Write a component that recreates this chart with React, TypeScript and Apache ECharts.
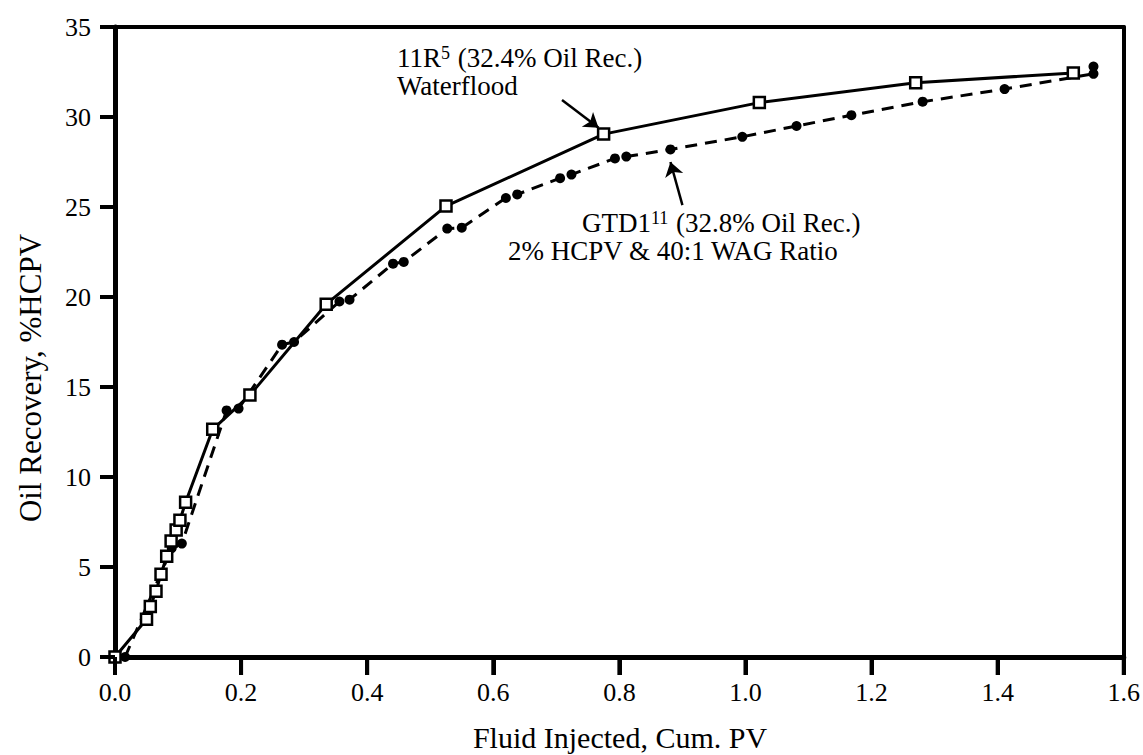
import React, { useEffect, useRef } from 'react';
import * as echarts from 'echarts';

// Waterflood 11R (open squares, solid line)
const waterX = [0, 0.05, 0.056, 0.065, 0.073, 0.082, 0.089, 0.097, 0.103, 0.112, 0.155, 0.214, 0.335, 0.525, 0.775, 1.022, 1.27, 1.52];
const waterY = [0, 2.1, 2.8, 3.65, 4.6, 5.6, 6.45, 7.05, 7.6, 8.6, 12.65, 14.55, 19.6, 25.05, 29.05, 30.8, 31.9, 32.45];

// GTD1 (filled dots, dashed line)
const gtdX = [0.016, 0.09, 0.106, 0.177, 0.196, 0.265, 0.284, 0.356, 0.372, 0.441, 0.458, 0.527, 0.55, 0.62, 0.638, 0.706, 0.724, 0.793, 0.811, 0.881, 0.995, 1.081, 1.168, 1.281, 1.411, 1.552, 1.552];
const gtdY = [0, 6.05, 6.3, 13.7, 13.8, 17.35, 17.5, 19.75, 19.85, 21.85, 21.95, 23.8, 23.85, 25.5, 25.7, 26.6, 26.8, 27.7, 27.8, 28.2, 28.9, 29.5, 30.1, 30.85, 31.55, 32.4, 32.8];

// Tick values
const xTicks = [0, 0.2, 0.4, 0.6, 0.8, 1.0, 1.2, 1.4, 1.6];
const yTicks = [0, 5, 10, 15, 20, 25, 30, 35];

// Annotation arrows (data coordinates: start -> tip)
const waterArrow = [[0.709, 30.94], [0.767, 29.4]];
const gtdArrow = [[0.9, 25.1], [0.881, 27.5]];

const xTickFormat = (v: number) => v.toFixed(1);

export default function App() {
  const ref = useRef<HTMLDivElement>(null);
  useEffect(() => {
    const chart = echarts.init(ref.current!, null, { renderer: 'svg' });
    const font = 'Liberation Serif';
    const black = '#000';
    const arrowLine = (pts: number[][]) => ({
      silent: true,
      symbol: ['none', 'arrow'],
      symbolSize: 14,
      label: { show: false },
      lineStyle: { color: black, width: 2.5, type: 'solid' },
      data: [[{ coord: pts[0] }, { coord: pts[1] }]],
    });
    const superRich = {
      n: { fontFamily: font, fontSize: 27, lineHeight: 27, fill: black },
      s: { fontFamily: font, fontSize: 18, lineHeight: 18, verticalAlign: 'top', padding: [0, 1, 0, 0], fill: black },
    };
    const frameAxis = {
      type: 'value',
      axisLine: { show: true, onZero: false, lineStyle: { color: black, width: 4 } },
      axisTick: { show: false },
      axisLabel: { show: false },
      splitLine: { show: false },
    };
    chart.setOption({
      animation: false,
      backgroundColor: '#fff',
      grid: { left: 115, right: 19, top: 27, bottom: 98 },
      xAxis: [
        {
          type: 'value', min: 0, max: 1.6, interval: 0.2, position: 'bottom',
          axisLine: { show: true, onZero: false, lineStyle: { color: black, width: 5 } },
          axisTick: { show: true, length: 18, lineStyle: { color: black, width: 4 } },
          axisLabel: { show: true, margin: 22, fontFamily: font, fontSize: 26, color: black, formatter: xTickFormat },
          splitLine: { show: false },
        },
        { ...frameAxis, min: 0, max: 1.6, position: 'top' },
      ],
      yAxis: [
        {
          type: 'value', min: 0, max: 35, interval: 5, position: 'left',
          axisLine: { show: true, onZero: false, lineStyle: { color: black, width: 5 } },
          axisTick: { show: true, length: 15, lineStyle: { color: black, width: 4 } },
          axisLabel: { show: true, margin: 24, fontFamily: font, fontSize: 26, color: black },
          splitLine: { show: false },
        },
        { ...frameAxis, min: 0, max: 35, position: 'right' },
      ],
      series: [
        {
          name: 'GTD1', type: 'line',
          data: gtdX.map((x, i) => [x, gtdY[i]]),
          symbol: 'circle', symbolSize: 10, showAllSymbol: true,
          itemStyle: { color: black },
          lineStyle: { color: black, width: 3, type: [12, 8] },
          markLine: arrowLine(gtdArrow),
          z: 2,
        },
        {
          name: 'Waterflood', type: 'line',
          data: waterX.map((x, i) => [x, waterY[i]]),
          symbol: 'rect', symbolSize: 11, showAllSymbol: true,
          itemStyle: { color: '#fff', borderColor: black, borderWidth: 2.5 },
          lineStyle: { color: black, width: 3 },
          markLine: arrowLine(waterArrow),
          z: 3,
        },
      ],
    });

    // Tick marks placed through the axes' own scales (drawn as thin filled rects)
    const toPx = (finder: any, v: number) => {
      const r: any = chart.convertToPixel(finder, v);
      return Array.isArray(r) ? r[0] : r;
    };
    const axisY = toPx({ yAxisIndex: 0 }, 0);
    const axisX = toPx({ xAxisIndex: 0 }, 0);
    const tickEls: any[] = [];
    xTicks.forEach((v, i) => {
      const px = toPx({ xAxisIndex: 0 }, v);
      tickEls.push({ type: 'rect', id: 'xt' + i, z: 100, silent: true, shape: { x: px - 2, y: axisY, width: 4, height: 18 }, style: { fill: black } });
    });
    yTicks.forEach((v, i) => {
      const py = toPx({ yAxisIndex: 0 }, v);
      tickEls.push({ type: 'rect', id: 'yt' + i, z: 100, silent: true, shape: { x: axisX - 15, y: py - 2, width: 15, height: 4 }, style: { fill: black } });
    });

    chart.setOption({
      graphic: [
        ...tickEls,
        {
          type: 'text', id: 'ann1a', left: 397, top: 44,
          style: { text: '{n|11R}{s|5}{n| (32.4% Oil Rec.)}', rich: superRich },
        },
        {
          type: 'text', id: 'ann1b', left: 397, top: 72,
          style: { text: 'Waterflood', fontFamily: font, fontSize: 27, lineHeight: 27, fill: black },
        },
        {
          type: 'text', id: 'ann2a', left: 582, top: 209,
          style: { text: '{n|GTD1}{s|11}{n| (32.8% Oil Rec.)}', rich: superRich },
        },
        {
          type: 'text', id: 'ann2b', left: 508, top: 237,
          style: { text: '2% HCPV & 40:1 WAG Ratio', fontFamily: font, fontSize: 27, lineHeight: 27, fill: black },
        },
        {
          type: 'text', id: 'ytitle', x: 30, y: 378, rotation: Math.PI / 2,
          style: { text: 'Oil Recovery, %HCPV', fontFamily: font, fontSize: 31, fill: black, align: 'center', verticalAlign: 'middle' },
        },
        {
          type: 'text', id: 'xtitle', x: 620, y: 737,
          style: { text: 'Fluid Injected, Cum. PV', fontFamily: font, fontSize: 30, fill: black, align: 'center', verticalAlign: 'middle' },
        },
      ],
    });
    return () => chart.dispose();
  }, []);
  return <div ref={ref} style={{ position: 'fixed', left: 0, top: 0, width: 1143, height: 755, background: '#fff' }} />;
}
